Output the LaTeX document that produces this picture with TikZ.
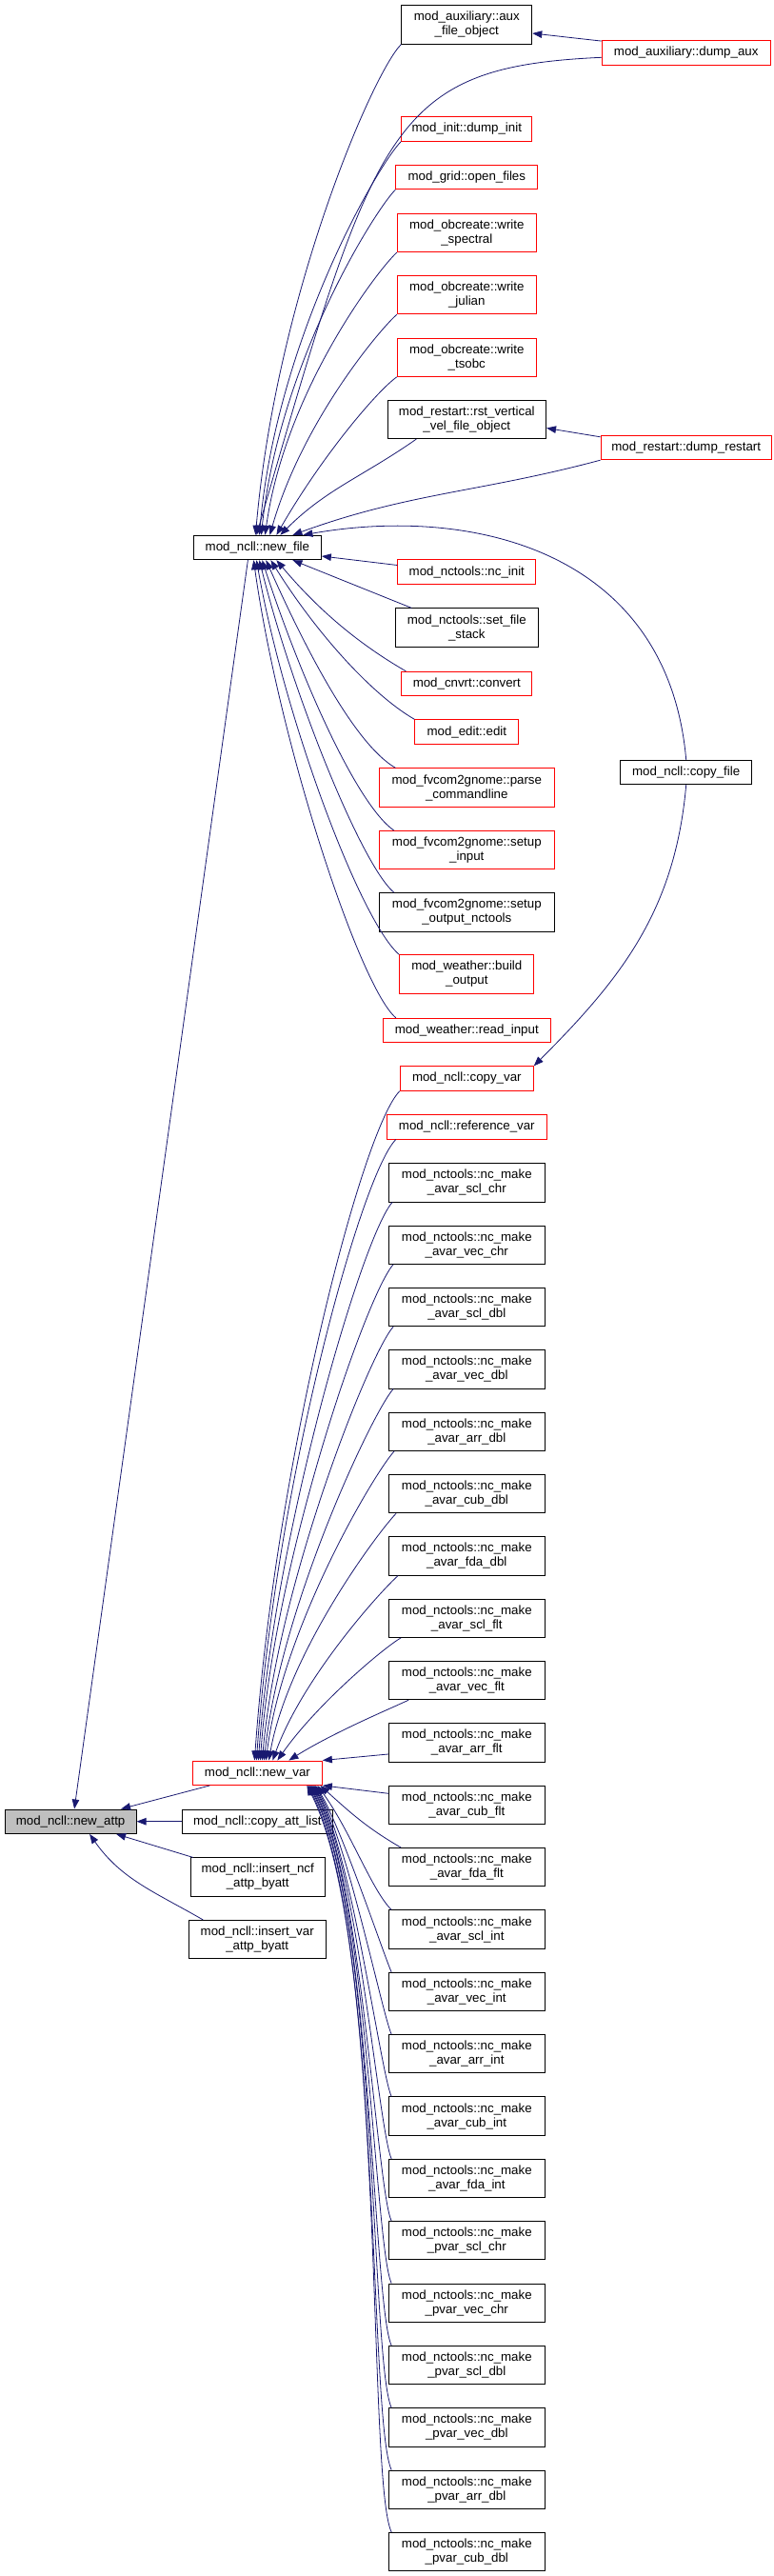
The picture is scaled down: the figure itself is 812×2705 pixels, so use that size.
\documentclass[tikz,border=0pt]{standalone}
\usepackage{fontspec}
\setmainfont{Liberation Sans}
\usepackage{tikz}
\usetikzlibrary{arrows.meta}
\definecolor{callblue}{RGB}{25,25,112}
\definecolor{rootgray}{RGB}{191,191,191}
\tikzset{
  fn/.style={draw=black, line width=0.9pt, fill=white, inner sep=0pt, align=center,
             minimum height=25.5pt, font=\fontsize{13.3}{15}\selectfont},
  fn2/.style={fn, minimum height=40.3pt},
  fnred/.style={fn, draw=red},
  fnred2/.style={fn2, draw=red},
  root/.style={fn, fill=rootgray},
  call/.style={draw=callblue, line width=0.8pt, -{Triangle[length=10pt,width=7.5pt]}}
}

\begin{document}
\begin{tikzpicture}[x=1pt, y=1pt]
  \useasboundingbox (0,0) rectangle (812,-2705);

  % the graph root
  \node[root, minimum width=138pt] (nattp) at (74.1,-1912.7) {mod\_ncll::new\_attp};

  % middle column
  \node[fn, minimum width=134pt] (nfile) at (270.4,-575) {mod\_ncll::new\_file};
  \node[fnred, minimum width=136pt] (nvar) at (270.4,-1861.7) {mod\_ncll::new\_var};
  \node[fn, minimum width=158pt] (cattl) at (270.4,-1912.7) {mod\_ncll::copy\_att\_list};
  \node[fn2, minimum width=141.5pt] (insncf) at (270.7,-1971) {mod\_ncll::insert\_ncf\\\_attp\_byatt};
  \node[fn2, minimum width=143.7pt] (insvar) at (270.2,-2036.5) {mod\_ncll::insert\_var\\\_attp\_byatt};

  % callers of new_file
  \node[fn2, minimum width=137pt] (auxobj) at (490.3,-26) {mod\_auxiliary::aux\\\_file\_object};
  \node[fnred, minimum width=137pt] (dinit) at (490.3,-135.3) {mod\_init::dump\_init};
  \node[fnred, minimum width=149pt] (ofiles) at (490.3,-186) {mod\_grid::open\_files};
  \node[fnred2, minimum width=146pt] (wspec) at (490.3,-244.5) {mod\_obcreate::write\\\_spectral};
  \node[fnred2, minimum width=146pt] (wjul) at (490.3,-309.7) {mod\_obcreate::write\\\_julian};
  \node[fnred2, minimum width=146pt] (wtsobc) at (490.3,-375.2) {mod\_obcreate::write\\\_tsobc};
  \node[fn2, minimum width=166.6pt] (rstv) at (490.3,-440.5) {mod\_restart::rst\_vertical\\\_vel\_file\_object};
  \node[fnred, minimum width=145pt] (ncinit) at (490.3,-600.5) {mod\_nctools::nc\_init};
  \node[fn2, minimum width=150pt] (sfstack) at (490.3,-659) {mod\_nctools::set\_file\\\_stack};
  \node[fnred, minimum width=137pt] (cnvrt) at (490.3,-718) {mod\_cnvrt::convert};
  \node[fnred, minimum width=109pt] (edit) at (490.3,-768.5) {mod\_edit::edit};
  \node[fnred2, minimum width=184.7pt] (parse) at (490.3,-827) {mod\_fvcom2gnome::parse\\\_commandline};
  \node[fnred2, minimum width=184pt] (sinput) at (490.3,-892.7) {mod\_fvcom2gnome::setup\\\_input};
  \node[fn2, minimum width=184pt] (soutput) at (490.3,-957.8) {mod\_fvcom2gnome::setup\\\_output\_nctools};
  \node[fnred2, minimum width=141pt] (boutput) at (490.3,-1023) {mod\_weather::build\\\_output};
  \node[fnred, minimum width=176pt] (rinput) at (490.3,-1082) {mod\_weather::read\_input};

  % callers of new_var
  \node[fnred, minimum width=140pt] (cvar) at (490.3,-1132.5) {mod\_ncll::copy\_var};
  \node[fnred, minimum width=168pt] (refvar) at (490.3,-1183.3) {mod\_ncll::reference\_var};
  \foreach \tag [count=\i] in {avar\_scl\_chr, avar\_vec\_chr, avar\_scl\_dbl, avar\_vec\_dbl,
      avar\_arr\_dbl, avar\_cub\_dbl, avar\_fda\_dbl, avar\_scl\_flt, avar\_vec\_flt,
      avar\_arr\_flt, avar\_cub\_flt, avar\_fda\_flt, avar\_scl\_int, avar\_vec\_int,
      avar\_arr\_int, avar\_cub\_int, avar\_fda\_int, pvar\_scl\_chr, pvar\_vec\_chr,
      pvar\_scl\_dbl, pvar\_vec\_dbl, pvar\_arr\_dbl, pvar\_cub\_dbl}
    \node[fn2, minimum width=163.4pt] (mk\i) at (490.3,{-1241.8-65.35*(\i-1)}) {mod\_nctools::nc\_make\\\_\tag};

  % far right column
  \node[fnred, minimum width=177pt] (daux) at (720.7,-55.3) {mod\_auxiliary::dump\_aux};
  \node[fnred, minimum width=179.4pt] (drest) at (720.7,-470) {mod\_restart::dump\_restart};
  \node[fn, minimum width=138pt] (cfile) at (720.7,-811) {mod\_ncll::copy\_file};

  % edges into new_attp
  \draw[call] ([xshift=-10pt]nfile.south) -- ([xshift=4pt]nattp.north);
  \draw[call] ([xshift=-50pt]nvar.south) -- ([xshift=53pt]nattp.north);
  \draw[call] (cattl.west) -- (nattp.east);
  \draw[call] ([xshift=-68pt]insncf.north) -- ([xshift=48pt]nattp.south);
  \draw[call] ([xshift=-57pt]insvar.north) to[out=150, in=-55] ([xshift=20pt]nattp.south);

  % edges into new_file, from above
  \foreach \src/\o/\a/\s/\l in {auxobj/225/85/-2/.2, dinit/225/85/2/.2, ofiles/225/84/4/.2,
      wspec/222/82/8/.2, wjul/220/74/13/.2, wtsobc/215/60/20/.3}
    \draw[call] (\src.south west) to[out=\o, in=\a, out looseness=\l, in looseness=1.2] ([xshift=\s pt]nfile.north);
  \draw[call] ([yshift=-5pt]daux.west) .. controls +(-222pt,-10pt) and +(124.6pt,430pt) .. ([xshift=-1pt]nfile.north);
  \draw[call] ([yshift=-1pt]daux.north west) -- ([yshift=-9pt]auxobj.east);
  \draw[call] ([xshift=-53pt]rstv.south) to[out=215, in=45] ([xshift=24pt]nfile.north);
  \draw[call] (drest.south west) to[out=195, in=20] ([xshift=37pt]nfile.north);
  \draw[call] ([yshift=-2pt]drest.north west) -- ([yshift=-9pt]rstv.east);
  \draw[call] (cfile.north) to[out=95, in=10, out looseness=1.2] ([xshift=48pt]nfile.north);
  \draw[call] (cfile.south) to[out=-95, in=45] (cvar.north east);

  % edges into new_file, from below
  \draw[call] ([yshift=7pt]ncinit.west) -- ([yshift=-9pt]nfile.east);
  \draw[call] ([xshift=-58pt]sfstack.north) -- ([xshift=37pt]nfile.south);
  \foreach \src/\dx/\o/\a/\s/\l in {cnvrt/5/150/-50/20/.8, edit/0/150/-58/14/.6,
      parse/18/150/-66/9/.5, sinput/16/145/-72/5/.4, soutput/16/140/-76/2/.3,
      boutput/0/140/-80/-1/.3, rinput/14/140/-82/-4/.25}
    \draw[call] ([xshift=\dx pt]\src.north west) to[out=\o, in=\a, out looseness=\l] ([xshift=\s pt]nfile.south);

  % edges into new_var, from above
  \draw[call] (cvar.south west) to[out=225, in=86, out looseness=.2, in looseness=1.1] ([xshift=-3pt]nvar.north);
  \draw[call] ([xshift=10pt]refvar.south west) to[out=225, in=86, out looseness=.2, in looseness=1.1] ([xshift=-1pt]nvar.north);
  \foreach \i/\dx/\o/\a/\s/\l in {1/4/228/86/1/.2, 2/5/228/86/3/.2, 3/5/228/85/5/.2,
      4/5/228/84/7/.2, 5/6/228/83/9/.25, 6/8/226/80/12/.25, 7/10/222/70/16/.3,
      8/13/210/55/21/.3, 9/21/205/32/33/.4}
    \draw[call] ([xshift=\dx pt]mk\i.south west) to[out=\o, in=\a, out looseness=\l] ([xshift=\s pt]nvar.north);
  \draw[call] ([yshift=-12pt]mk10.west) -- (nvar.north east);
  \draw[call] ([yshift=12pt]mk11.west) -- (nvar.south east);

  % edges into new_var, from below
  \draw[call] ([xshift=13pt]mk12.north west) to[out=150, in=-42] ([xshift=66pt]nvar.south);
  \draw[call] ([xshift=3pt]mk13.north west) to[out=135, in=-54, out looseness=.5] ([xshift=63pt]nvar.south);
  \foreach \i/\s/\a in {14/61/-58, 15/60/-59, 16/59/-60, 17/58/-60, 18/57/-61, 19/56/-61,
      20/55/-62, 21/54/-62, 22/53/-63, 23/52/-63}
    \draw[call] ([xshift=3pt]mk\i.north west) to[out=115, in=\a, out looseness=.2, in looseness=.6] ([xshift=\s pt]nvar.south);
\end{tikzpicture}
\end{document}
